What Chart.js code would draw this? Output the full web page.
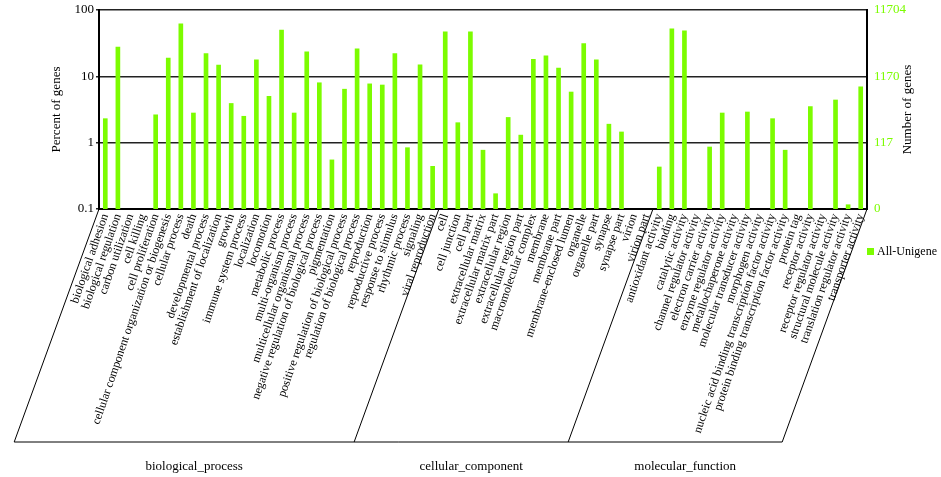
<!DOCTYPE html>
<html>
<head>
<meta charset="utf-8">
<script src="https://cdn.jsdelivr.net/npm/chart.js@4.4.1/dist/chart.umd.min.js"></script>
<style>
  html, body { margin: 0; padding: 0; background: #fff; }
  #wrap { width: 941px; height: 477px; position: relative; }
</style>
</head>
<body>
<div id="wrap"><canvas id="goChart"></canvas></div>
<script>
// GO terms, in the order they appear on the x axis
const categories = [
  'biological adhesion', 'biological regulation', 'carbon utilization', 'cell killing',
  'cell proliferation', 'cellular component organization or biogenesis', 'cellular process',
  'death', 'developmental process', 'establishment of localization', 'growth',
  'immune system process', 'localization', 'locomotion', 'metabolic process',
  'multi-organism process', 'multicellular organismal process',
  'negative regulation of biological process', 'pigmentation',
  'positive regulation of biological process', 'regulation of biological process',
  'reproduction', 'reproductive process', 'response to stimulus', 'rhythmic process',
  'signaling', 'viral reproduction',
  'cell', 'cell junction', 'cell part', 'extracellular matrix', 'extracellular matrix part',
  'extracellular region', 'extracellular region part', 'macromolecular complex', 'membrane',
  'membrane part', 'membrane-enclosed lumen', 'organelle', 'organelle part', 'synapse',
  'synapse part', 'virion', 'virion part',
  'antioxidant activity', 'binding', 'catalytic activity', 'channel regulator activity',
  'electron carrier activity', 'enzyme regulator activity', 'metallochaperone activity',
  'molecular transducer activity', 'morphogen activity',
  'nucleic acid binding transcription factor activity',
  'protein binding transcription factor activity', 'protein tag', 'receptor activity',
  'receptor regulator activity', 'structural molecule activity',
  'translation regulator activity', 'transporter activity'
];

// percent of genes (null = no visible bar)
const percentValues = [
  2.3, 27.6, null, null, 2.63, 18.8, 62, 2.8, 22, 14.8, 3.9, 2.5, 17.8, 5.0, 50, 2.8, 23.5,
  8.0, 0.55, 6.4, 26, 7.7, 7.4, 22, 0.84, 14.9, 0.44,
  47, 2.0, 47, 0.77, 0.17, 2.4, 1.3, 18, 20.4, 13.3, 5.8, 31.3, 17.8, 1.9, 1.45, null, null,
  0.43, 52, 48.7, null, 0.86, 2.8, null, 2.9, null, 2.3, 0.77, null, 3.5, null, 4.4, 0.116, 6.95
];

const groupNames = ['biological_process', 'cellular_component', 'molecular_function'];
const groupSizes = [27, 17, 17];
const percentTicks = [0.1, 1, 10, 100];
const totalGenes = 11704;
const seriesName = 'All-Unigene';

const barGreen = '#7CFC00';
const serif = 'Liberation Serif';

// group brackets under the axis, legend and right axis title
const goFrame = {
  id: 'goFrame',
  afterDraw(chart) {
    const { ctx, chartArea, scales: { x } } = chart;
    const slot = x.getPixelForValue(1) - x.getPixelForValue(0);
    const baseY = 442;
    const drop = (baseY - chartArea.bottom) / Math.tan(70 * Math.PI / 180);

    const edges = [0];
    let n = 0;
    groupSizes.forEach(s => { n += s; edges.push(n); });

    ctx.save();
    ctx.strokeStyle = '#000';
    ctx.lineWidth = 1;
    const bottoms = edges.map(i => {
      const xt = x.getPixelForValue(i) - slot / 2;
      ctx.beginPath();
      ctx.moveTo(xt, chartArea.bottom);
      ctx.lineTo(xt - drop, baseY);
      ctx.stroke();
      return xt - drop;
    });
    ctx.beginPath();
    ctx.moveTo(bottoms[0], baseY);
    ctx.lineTo(bottoms[bottoms.length - 1], baseY);
    ctx.stroke();

    ctx.fillStyle = '#000';
    ctx.font = '13px "' + serif + '"';
    ctx.textAlign = 'center';
    ctx.textBaseline = 'middle';
    groupNames.forEach((g, i) => {
      ctx.fillText(g, (bottoms[i] + bottoms[i + 1]) / 2 + 10, 467);
    });

    // legend
    ctx.fillStyle = barGreen;
    ctx.fillRect(867, 248, 7, 7);
    ctx.fillStyle = '#000';
    ctx.font = '12px "' + serif + '"';
    ctx.textAlign = 'left';
    ctx.fillText(chart.data.datasets[0].label, 877, 252);

    // right axis title, reading upward like the left one
    ctx.translate(908, (chartArea.top + chartArea.bottom) / 2);
    ctx.rotate(-Math.PI / 2);
    ctx.font = '13px "' + serif + '"';
    ctx.textAlign = 'center';
    ctx.fillText('Number of genes', 0, 0);
    ctx.restore();
  }
};

new Chart(document.getElementById('goChart'), {
  type: 'bar',
  data: {
    labels: categories,
    datasets: [{
      label: seriesName,
      data: percentValues,
      backgroundColor: barGreen,
      barThickness: 4,
      yAxisID: 'y'
    }]
  },
  options: {
    responsive: true,
    maintainAspectRatio: false,
    animation: false,
    layout: { padding: { left: 45, right: 21, top: 10, bottom: 0 } },
    plugins: {
      legend: { display: false },
      tooltip: { enabled: false }
    },
    scales: {
      x: {
        grid: { display: false, drawTicks: false },
        border: { display: true, color: '#000', width: 2 },
        ticks: {
          autoSkip: false,
          minRotation: 71,
          maxRotation: 71,
          padding: 3,
          color: '#000',
          font: { family: serif, size: 12 }
        },
        afterFit: scale => { scale.height = 268; scale.paddingLeft = 0; scale.paddingRight = 0; }
      },
      y: {
        type: 'logarithmic',
        position: 'left',
        min: 0.1,
        max: 100,
        z: 1,
        afterBuildTicks: scale => { scale.ticks = percentTicks.map(v => ({ value: v })); },
        grid: { color: '#222', lineWidth: 1.5, tickLength: 3 },
        border: { display: true, color: '#000', width: 2 },
        ticks: {
          padding: 2,
          color: '#000',
          font: { family: serif, size: 13 },
          callback: v => String(v)
        },
        title: {
          display: true,
          text: 'Percent of genes',
          color: '#000',
          font: { family: serif, size: 13 },
          padding: { top: 4, bottom: 4 }
        },
        afterFit: scale => { scale.width = 54; scale.paddingTop = 0; scale.paddingBottom = 0; }
      },
      y2: {
        type: 'logarithmic',
        position: 'right',
        min: 0.1,
        max: 100,
        afterBuildTicks: scale => { scale.ticks = percentTicks.map(v => ({ value: v })); },
        grid: { display: false, drawTicks: false },
        border: { display: true, color: '#000', width: 2 },
        ticks: {
          padding: 7,
          color: barGreen,
          font: { family: serif, size: 13 },
          callback: v => v <= percentTicks[0] ? '0' : String(Math.round(v * totalGenes / 100))
        },
        afterFit: scale => { scale.width = 53; scale.paddingTop = 0; scale.paddingBottom = 0; }
      }
    }
  },
  plugins: [goFrame]
});
</script>
</body>
</html>
